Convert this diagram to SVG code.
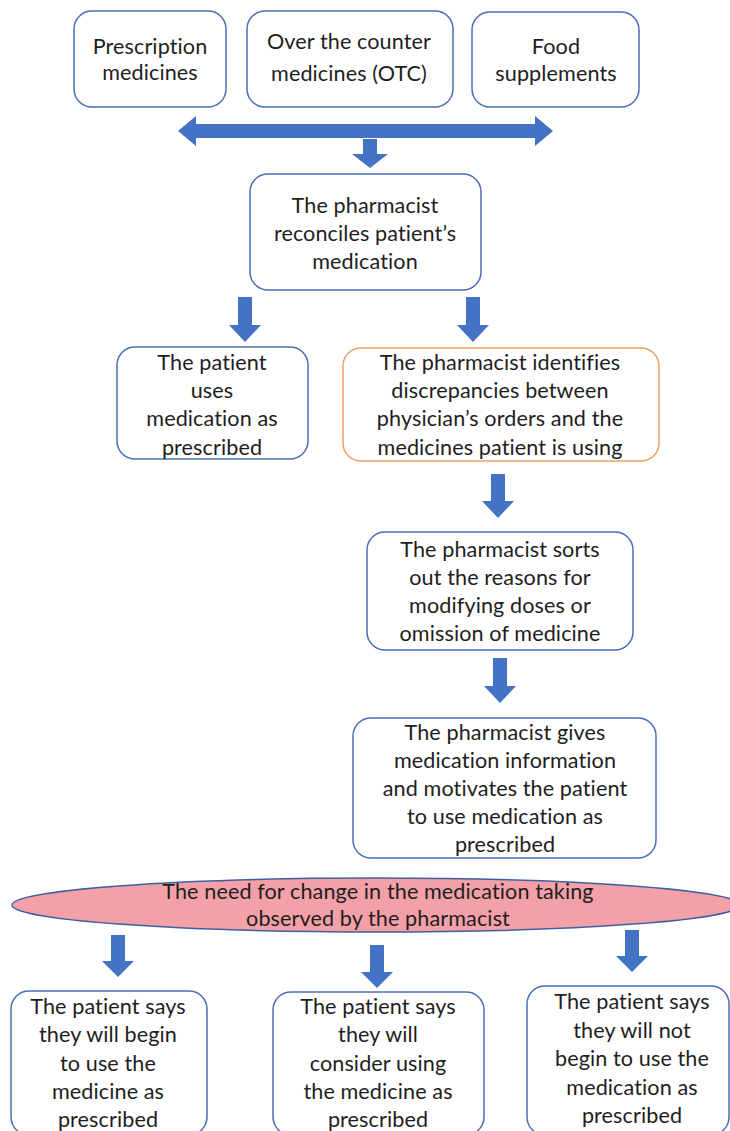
<svg xmlns="http://www.w3.org/2000/svg" width="730" height="1131" viewBox="0 0 730 1131">
  <defs>
    <style>
      .box { fill: #ffffff; stroke: #4a6fb5; stroke-width: 1.5; }
      .box-alt { fill: #ffffff; stroke: #f0a060; stroke-width: 1.5; }
      .oval { fill: #f4a0a8; stroke: #3f5f9f; stroke-width: 1.5; }
      .arrow { fill: #4472c4; }
      text { font-family: "Lato", "Liberation Sans", sans-serif; font-size: 21.6px; letter-spacing: 0.1px; font-variant-ligatures: none; font-feature-settings: "liga" 0, "clig" 0, "calt" 0, "dlig" 0; fill: #1e1e1e; text-anchor: middle; dominant-baseline: central; }
    </style>
  </defs>
  <rect width="730" height="1131" fill="#ffffff"/>

  <!-- sources -->
  <g id="prescription">
    <rect class="box" x="74" y="11" width="152" height="96" rx="18"/>
    <text x="150" y="46">Prescription</text>
    <text x="150" y="72">medicines</text>
  </g>
  <g id="otc">
    <rect class="box" x="247" y="11" width="206" height="96" rx="18"/>
    <text x="349" y="41">Over the counter</text>
    <text x="349" y="73">medicines (OTC)</text>
  </g>
  <g id="supplements">
    <rect class="box" x="472" y="12" width="167" height="95" rx="18"/>
    <text x="556" y="46">Food</text>
    <text x="556" y="73">supplements</text>
  </g>

  <g id="reconcile">
    <rect class="box" x="250" y="174" width="231" height="116" rx="18"/>
    <text x="365" y="205">The pharmacist</text>
    <text x="365" y="233">reconciles patient’s</text>
    <text x="365" y="261">medication</text>
  </g>

  <g id="uses-as-prescribed">
    <rect class="box" x="117" y="347" width="191" height="112" rx="18"/>
    <text x="212" y="362">The patient</text>
    <text x="212" y="390">uses</text>
    <text x="212" y="418">medication as</text>
    <text x="212" y="447">prescribed</text>
  </g>

  <g id="discrepancies">
    <rect class="box-alt" x="343" y="348" width="316" height="113" rx="18"/>
    <text x="500" y="362">The pharmacist identifies</text>
    <text x="500" y="390">discrepancies between</text>
    <text x="500" y="418">physician’s orders and the</text>
    <text x="500" y="447">medicines patient is using</text>
  </g>

  <g id="reasons">
    <rect class="box" x="367" y="532" width="266" height="118" rx="18"/>
    <text x="500" y="549">The pharmacist sorts</text>
    <text x="500" y="577">out the reasons for</text>
    <text x="500" y="605">modifying doses or</text>
    <text x="500" y="633">omission of medicine</text>
  </g>

  <g id="information">
    <rect class="box" x="353" y="718" width="303" height="140" rx="18"/>
    <text x="505" y="732">The pharmacist gives</text>
    <text x="505" y="760">medication information</text>
    <text x="505" y="788">and motivates the patient</text>
    <text x="505" y="816">to use medication as</text>
    <text x="505" y="844">prescribed</text>
  </g>

  <g id="need-for-change">
    <ellipse class="oval" cx="376" cy="905" rx="364" ry="27"/>
    <text x="378" y="891">The need for change in the medication taking</text>
    <text x="378" y="918">observed by the pharmacist</text>
  </g>

  <g id="will-begin">
    <rect class="box" x="11" y="991" width="196" height="144" rx="18"/>
    <text x="108" y="1006">The patient says</text>
    <text x="108" y="1034">they will begin</text>
    <text x="108" y="1063">to use the</text>
    <text x="108" y="1091">medicine as</text>
    <text x="108" y="1119">prescribed</text>
  </g>

  <g id="will-consider">
    <rect class="box" x="273" y="992" width="211" height="143" rx="18"/>
    <text x="378" y="1006">The patient says</text>
    <text x="378" y="1034">they will</text>
    <text x="378" y="1063">consider using</text>
    <text x="378" y="1091">the medicine as</text>
    <text x="378" y="1119">prescribed</text>
  </g>

  <g id="will-not-begin">
    <rect class="box" x="527" y="986" width="202" height="149" rx="18"/>
    <text x="632" y="1001">The patient says</text>
    <text x="632" y="1030">they will not</text>
    <text x="632" y="1058">begin to use the</text>
    <text x="632" y="1087">medication as</text>
    <text x="632" y="1115">prescribed</text>
  </g>

  <!-- block arrows -->
  <g id="connectors">
    <polygon class="arrow" points="178,131 196,116 196,124 535,124 535,116 553,131 535,146 535,138 196,138 196,146"/>
    <polygon class="arrow" points="363,139 377,139 377,154 388,154 370,168 352,154 363,154"/>
    <polygon class="arrow" points="238,297 252,297 252,325 261,325 245,342 229,325 238,325"/>
    <polygon class="arrow" points="466,297 480,297 480,325 489,325 473,342 457,325 466,325"/>
    <polygon class="arrow" points="491,474 505,474 505,501 514,501 498,518 482,501 491,501"/>
    <polygon class="arrow" points="493,658 507,658 507,686 516,686 500,703 484,686 493,686"/>
    <polygon class="arrow" points="111,935 125,935 125,961 134,961 118,977 102,961 111,961"/>
    <polygon class="arrow" points="370,945 384,945 384,972 393,972 377,988 361,972 370,972"/>
    <polygon class="arrow" points="625,930 639,930 639,956 648,956 632,972 616,956 625,956"/>
  </g>
</svg>
